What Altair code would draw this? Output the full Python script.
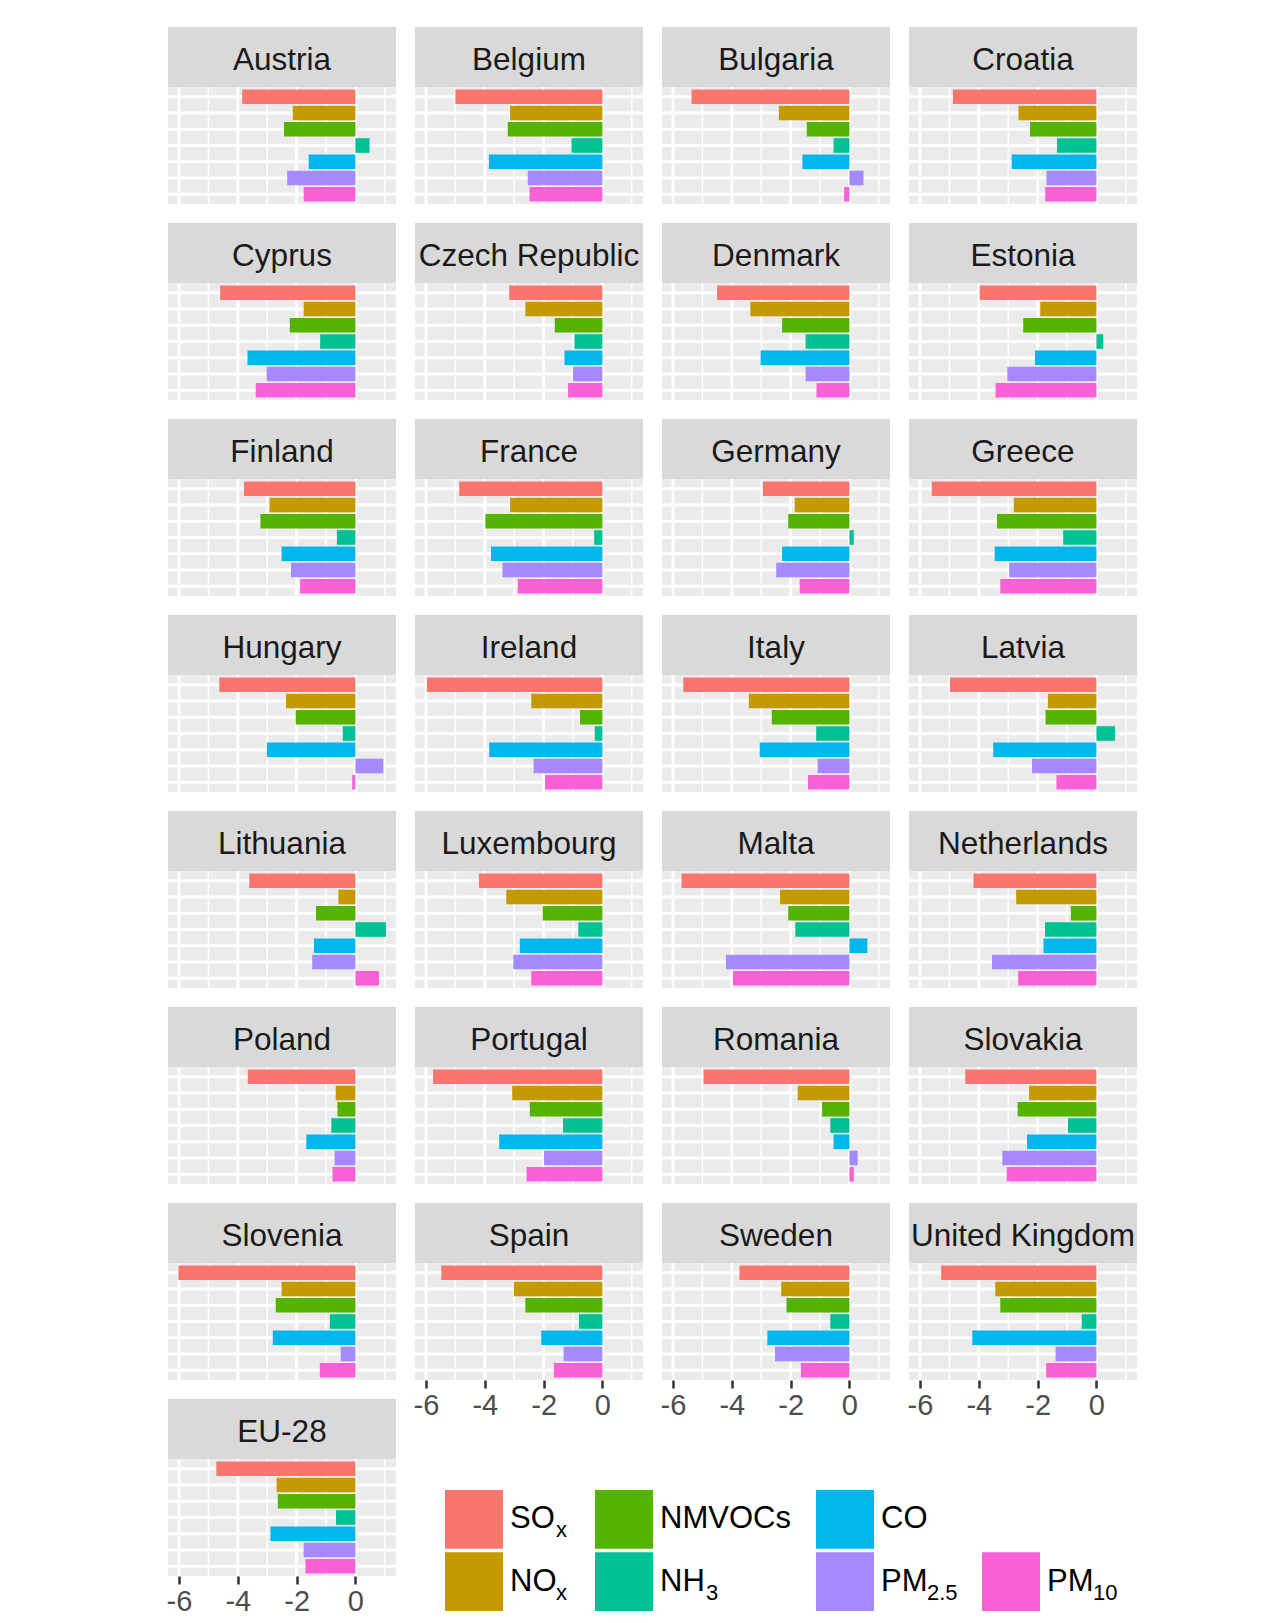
import altair as alt
import pandas as pd

FONT = "Liberation Sans"

COUNTRIES = ["Austria", "Belgium", "Bulgaria", "Croatia",
             "Cyprus", "Czech Republic", "Denmark", "Estonia",
             "Finland", "France", "Germany", "Greece",
             "Hungary", "Ireland", "Italy", "Latvia",
             "Lithuania", "Luxembourg", "Malta", "Netherlands",
             "Poland", "Portugal", "Romania", "Slovakia",
             "Slovenia", "Spain", "Sweden", "United Kingdom",
             "EU-28"]

POLLUTANTS = ["SOx", "NOx", "NMVOCs", "NH3", "CO", "PM2.5", "PM10"]
COLORS = ["#F8766D", "#C49A00", "#53B400", "#00C094", "#00B6EB", "#A58AFF", "#FB61D7"]

SOX = [-3.85, -5.00, -5.37, -4.88, -4.60, -3.17, -4.50, -3.97, -3.79, -4.87, -2.94, -5.60,
       -4.63, -5.97, -5.65, -4.98, -3.61, -4.20, -5.71, -4.18, -3.66, -5.76, -4.96, -4.46,
       -6.02, -5.48, -3.74, -5.28, -4.73]
NOX = [-2.13, -3.14, -2.40, -2.65, -1.76, -2.62, -3.37, -1.91, -2.92, -3.14, -1.86, -2.81,
       -2.36, -2.42, -3.42, -1.65, -0.58, -3.27, -2.36, -2.73, -0.67, -3.07, -1.76, -2.29,
       -2.51, -3.01, -2.32, -3.44, -2.68]
NMVOCS = [-2.43, -3.22, -1.45, -2.26, -2.23, -1.62, -2.29, -2.49, -3.23, -3.98, -2.08, -3.38,
          -2.03, -0.76, -2.64, -1.73, -1.34, -2.03, -2.08, -0.87, -0.61, -2.47, -0.93, -2.68,
          -2.71, -2.62, -2.14, -3.27, -2.64]
NH3 = [0.48, -1.05, -0.54, -1.34, -1.20, -0.95, -1.49, 0.23, -0.63, -0.28, 0.15, -1.13,
       -0.43, -0.26, -1.13, 0.63, 1.04, -0.82, -1.84, -1.75, -0.82, -1.34, -0.65, -0.97,
       -0.87, -0.80, -0.65, -0.50, -0.66]
CO = [-1.59, -3.86, -1.60, -2.88, -3.67, -1.29, -3.02, -2.09, -2.51, -3.79, -2.29, -3.46,
      -3.01, -3.85, -3.05, -3.51, -1.41, -2.81, 0.61, -1.80, -1.67, -3.51, -0.54, -2.36,
      -2.81, -2.08, -2.79, -4.22, -2.89]
PM25 = [-2.32, -2.54, 0.48, -1.70, -3.02, -1.00, -1.49, -3.03, -2.19, -3.40, -2.49, -2.97,
        0.95, -2.34, -1.08, -2.19, -1.47, -3.03, -4.20, -3.55, -0.71, -1.99, 0.28, -3.20,
        -0.50, -1.32, -2.53, -1.39, -1.76]
PM10 = [-1.76, -2.48, -0.18, -1.74, -3.39, -1.17, -1.12, -3.43, -1.88, -2.88, -1.69, -3.27,
        -0.11, -1.95, -1.41, -1.36, 0.80, -2.42, -3.96, -2.66, -0.78, -2.58, 0.15, -3.05,
        -1.21, -1.65, -1.65, -1.71, -1.70]

MAJOR_TICKS = [-6, -4, -2, 0]
MINOR_TICKS = [-5, -3, -1, 1]
X_DOMAIN = [-6.374, 1.38]

LEG_MAIN = ["SO", "NO", "NMVOCs", "NH", "CO", "PM", "PM"]
LEG_SUB = ["x", "x", "", "3", "", "2.5", "10"]

SERIES = [SOX, NOX, NMVOCS, NH3, CO, PM25, PM10]
rows = []
for p, vals in zip(POLLUTANTS, SERIES):
    for c, v in zip(COUNTRIES, vals):
        rows.append({"country": c, "pollutant": p, "value": v})
df = pd.DataFrame(rows)

color_scale = alt.Scale(domain=POLLUTANTS, range=COLORS)
x_scale = alt.Scale(domain=X_DOMAIN, nice=False, zero=False)
y_scale = alt.Scale(domain=POLLUTANTS, paddingInner=0.1, paddingOuter=0.15)

PW, PH, SH = 228, 117, 60
COL_GAP = 17
PANEL_BG = alt.ViewBackground(fill="#EBEBEB", strokeWidth=0)
STRIP_BG = alt.ViewBackground(fill="#D9D9D9", strokeWidth=0)

BOTTOM_AXIS = alt.Axis(values=MAJOR_TICKS, grid=False, domain=False, ticks=True,
                       tickColor="#333333", tickSize=8, tickWidth=2.5,
                       labels=True, labelFont=FONT, labelFontSize=29, labelColor="#4D4D4D",
                       labelPadding=3, labelExpr="replace(datum.label, '\u2212', '-')",
                       title=None)


def panel(country, show_axis):
    ax = BOTTOM_AXIS if show_axis else None
    minor = alt.Chart(alt.Data(values=[{"v": v} for v in MINOR_TICKS])).mark_rule(
        color="white", strokeWidth=1.5, clip=True
    ).encode(x=alt.X("v:Q", scale=x_scale, axis=ax))
    major = alt.Chart(alt.Data(values=[{"v": v} for v in MAJOR_TICKS])).mark_rule(
        color="white", strokeWidth=2.8, clip=True
    ).encode(x=alt.X("v:Q", scale=x_scale, axis=ax))
    hgrid = alt.Chart(alt.Data(values=[{"pollutant": p} for p in POLLUTANTS])).mark_rule(
        color="white", strokeWidth=2.8, clip=True
    ).encode(y=alt.Y("pollutant:N", sort=POLLUTANTS, scale=y_scale, axis=None))
    bars = alt.Chart(df).transform_filter(
        alt.datum.country == country
    ).mark_bar(clip=True).encode(
        x=alt.X("value:Q", scale=x_scale, axis=ax),
        x2=alt.datum(0),
        y=alt.Y("pollutant:N", sort=POLLUTANTS, scale=y_scale, axis=None),
        color=alt.Color("pollutant:N", scale=color_scale, legend=None),
    )
    plot = alt.layer(minor, major, hgrid, bars).properties(width=PW, height=PH, view=PANEL_BG)
    strip = alt.Chart(alt.Data(values=[{"country": country}])).mark_text(
        font=FONT, fontSize=31.5, color="#1A1A1A", align="center", baseline="alphabetic",
        clip=True
    ).encode(
        text="country:N", x=alt.value(PW / 2), y=alt.value(43)
    ).properties(width=PW, height=SH, view=STRIP_BG)
    return alt.vconcat(strip, plot, spacing=0)


columns = []
for j in range(4):
    names = COUNTRIES[j::4]
    panels = [panel(c, i == len(names) - 1) for i, c in enumerate(names)]
    columns.append(alt.vconcat(*panels, spacing=19))

# manual legend (keys + labels with subscripts), arranged column-wise like ggplot
leg_rows = []
for i, p in enumerate(POLLUTANTS):
    col = i // 2
    row = i % 2
    if i == 6:
        col, row = 3, 1
    leg_rows.append({"pollutant": p, "main": LEG_MAIN[i], "sub": LEG_SUB[i], "col": col, "row": row})
leg_df = pd.DataFrame(leg_rows)

LEG_WIDTHS = [180, 221, 166, 150]
LEG_OFFSETS = [30, 0, 0, 0]
leg_cols = []
for j in range(4):
    x0 = LEG_OFFSETS[j]
    base = alt.Chart(leg_df).transform_filter(alt.datum.col == j)
    y_enc = alt.Y("row:O", scale=alt.Scale(domain=[0, 1], paddingInner=0.06, paddingOuter=0), axis=None)
    keys = base.mark_rect().encode(
        x=alt.value(x0), x2=alt.value(x0 + 58), y=y_enc,
        color=alt.Color("pollutant:N", scale=color_scale, legend=None),
    )
    main_t = base.mark_text(align="left", baseline="middle", font=FONT, fontSize=31,
                            color="black").encode(x=alt.value(x0 + 65), y=y_enc, text="main:N")
    sub_t = base.mark_text(align="left", baseline="middle", font=FONT, fontSize=22, dy=11,
                           color="black").encode(x=alt.value(x0 + 65 + 46), y=y_enc, text="sub:N")
    leg_cols.append(alt.layer(keys, main_t, sub_t).properties(
        width=LEG_WIDTHS[j], height=121,
        view=alt.ViewBackground(fill="white", strokeWidth=0)))

legend = alt.hconcat(*leg_cols, spacing=0)

right = alt.vconcat(alt.hconcat(columns[1], columns[2], columns[3], spacing=COL_GAP),
                    legend, spacing=70)

chart = alt.hconcat(columns[0], right, spacing=COL_GAP).properties(
    padding={"left": 158, "top": 19, "right": 5, "bottom": 0},
    background="white",
).configure_view(strokeWidth=0)

chart.save("out.html", embed_options={"renderer": "svg", "actions": False})
